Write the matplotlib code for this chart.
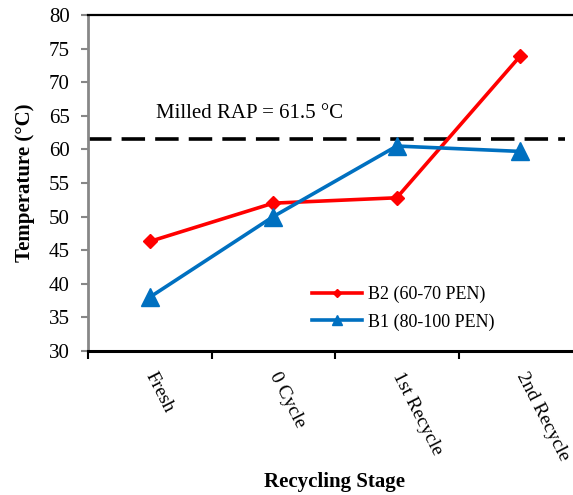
import matplotlib
matplotlib.use("Agg")
import matplotlib.pyplot as plt
from matplotlib.ticker import FixedLocator

categories = ["Fresh", "0 Cycle", "1st Recycle", "2nd Recycle"]
b2_values = [46.3, 52.0, 52.8, 73.9]
b1_values = [38.0, 50.0, 60.5, 59.7]
b2_label = "B2 (60-70 PEN)"
b1_label = "B1 (80-100 PEN)"
rap_temp = 61.5
rap_text = "Milled RAP = 61.5 °C"
y_ticks = [30, 35, 40, 45, 50, 55, 60, 65, 70, 75, 80]

plt.rcParams['font.family'] = ['Liberation Serif', 'DejaVu Serif']

W, H = 573, 495
fig = plt.figure(figsize=(W / 100, H / 100), dpi=100)
left, right, top, bottom = 88, 582, 15, 351
ax = fig.add_axes([left / W, (H - bottom) / H, (right - left) / W, (bottom - top) / H])

x = list(range(len(categories)))
ax.plot(x, b2_values, color='#FF0000', lw=2.6, marker='D', markersize=7,
        label=b2_label, zorder=3)
ax.plot(x, b1_values, color='#0070C0', lw=2.6, marker='^', markersize=13,
        label=b1_label, zorder=3)

ax.axhline(rap_temp, xmin=0, xmax=0.965, color='black', lw=2.6,
           dashes=(6.5, 2.8), dash_capstyle='butt', zorder=2)
ax.text(0.81, 65.3, rap_text, ha='center', va='center', fontsize=15)

ax.set_xlim(-0.5, len(categories) - 0.5)
ax.set_ylim(30, 80)
ax.set_yticks(y_ticks)
ax.tick_params(axis='y', direction='out', length=5, width=1.5, color='#878787',
               labelsize=15, pad=8)

ax.set_xticks(x)
ax.set_xticklabels(categories, rotation=-63, ha='left', va='center',
                   rotation_mode='anchor')
ax.xaxis.set_minor_locator(FixedLocator([i - 0.5 for i in range(len(categories) + 1)]))
ax.tick_params(axis='x', which='major', length=0, labelsize=14, pad=16)
ax.tick_params(axis='x', which='minor', length=6, width=1.5, color='black')

ax.spines['right'].set_visible(False)
ax.spines['left'].set_color('#878787')
ax.spines['left'].set_linewidth(2)
ax.spines['bottom'].set_color('black')
ax.spines['bottom'].set_linewidth(2.2)
ax.spines['top'].set_color('black')
ax.spines['top'].set_linewidth(1.6)

ax.set_ylabel("Temperature (°C)", fontsize=15, fontweight='bold')
ax.yaxis.set_label_coords(-0.108, 0.5)
ax.set_xlabel("Recycling Stage", fontsize=15, fontweight='bold', va='center')
ax.xaxis.set_label_coords(0.5, -0.39)

ax.legend(loc='upper left', bbox_to_anchor=(0.453, 0.193), frameon=False,
          fontsize=13, handlelength=2.8, handletextpad=0.3, labelspacing=0.55,
          borderaxespad=0, borderpad=0, markerscale=0.6)

fig.savefig("out.png", dpi=100)
